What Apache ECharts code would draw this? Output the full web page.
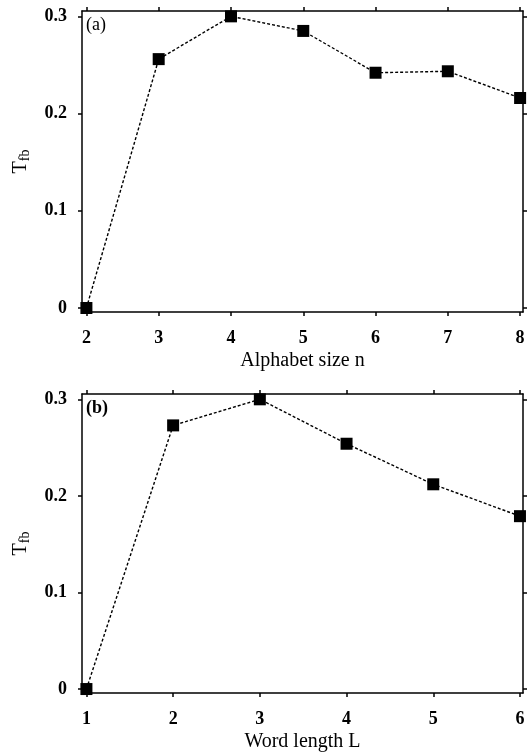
<!DOCTYPE html>
<html>
<head>
<meta charset="utf-8">
<script src="https://cdn.jsdelivr.net/npm/echarts@6/dist/echarts.min.js"></script>
<style>html,body{margin:0;padding:0;background:#fff;}#c{width:532px;height:753px;}</style>
</head>
<body>
<div id="c"></div>
<script>
// ---- data ----
var alphabetSize = [2, 3, 4, 5, 6, 7, 8];
var tfbA = [0, 0.256, 0.300, 0.285, 0.242, 0.2435, 0.216];
var wordLength = [1, 2, 3, 4, 5, 6];
var tfbB = [0, 0.273, 0.300, 0.254, 0.212, 0.179];
var yTicks = [0, 0.1, 0.2, 0.3];
var xNameA = 'Alphabet size n';
var xNameB = 'Word length L';
var panelA = '(a)';
var panelB = '(b)';

var FONT = 'Liberation Serif';
var chart = echarts.init(document.getElementById('c'));

function pairs(xs, ys) { return xs.map(function (x, i) { return [x, ys[i]]; }); }

var lineStyleAxis = { color: '#000', width: 1.5 };
function xAx(gi, pos, ticks, min, max, name, showLabel) {
  return {
    type: 'value', gridIndex: gi, position: pos, min: min, max: max,
    name: showLabel ? name : '', nameLocation: 'middle', nameGap: 39,
    nameTextStyle: { fontFamily: FONT, fontSize: 20, color: '#000' },
    axisLine: { show: true, onZero: false, lineStyle: lineStyleAxis },
    axisTick: { show: true, inside: false, length: 4, customValues: ticks, lineStyle: lineStyleAxis },
    axisLabel: { show: showLabel, customValues: ticks, margin: 17, fontFamily: FONT, fontSize: 18, fontWeight: 'bold', color: '#000' },
    splitLine: { show: false }
  };
}
function yAx(gi, pos, showLabel) {
  return {
    type: 'value', gridIndex: gi, position: pos, min: -0.0041, max: 0.3055,
    name: showLabel ? '{t|T}{s|fb}' : '', nameLocation: 'middle', nameGap: 50, nameRotate: 90,
    nameTextStyle: { fontFamily: FONT, color: '#000',
      rich: { t: { fontFamily: FONT, fontSize: 20, color: '#000' }, s: { fontFamily: FONT, fontSize: 14, color: '#000', padding: [8, 0, 0, 0] } } },
    axisLine: { show: true, onZero: false, lineStyle: lineStyleAxis },
    axisTick: { show: true, inside: false, length: 4, customValues: yTicks, lineStyle: lineStyleAxis },
    axisLabel: { show: showLabel, customValues: yTicks, margin: 15, fontFamily: FONT, fontSize: 18, fontWeight: 'bold', color: '#000',
      formatter: function (v) { return v === 0 ? '0' : v.toFixed(1); } },
    splitLine: { show: false }
  };
}

var seriesStyle = {
  type: 'line', symbol: 'rect', symbolSize: 12, showSymbol: true,
  itemStyle: { color: '#000' },
  lineStyle: { color: '#000', width: 1.4, type: [3, 2] },
  animation: false
};

chart.setOption({
  animation: false,
  backgroundColor: '#fff',
  grid: [
    { left: 82, right: 9, top: 11, height: 301 },
    { left: 82, right: 9, top: 394, height: 301 }
  ],
  xAxis: [
    xAx(0, 'bottom', alphabetSize, 1.939, 8.04, xNameA, true),
    xAx(0, 'top', alphabetSize, 1.939, 8.04, '', false),
    xAx(1, 'bottom', wordLength, 0.949, 6.035, xNameB, true),
    xAx(1, 'top', wordLength, 0.949, 6.035, '', false)
  ],
  yAxis: [
    yAx(0, 'left', true),
    yAx(0, 'right', false),
    yAx(1, 'left', true),
    yAx(1, 'right', false)
  ],
  series: [
    Object.assign({}, seriesStyle, { xAxisIndex: 0, yAxisIndex: 0, data: pairs(alphabetSize, tfbA) }),
    Object.assign({}, seriesStyle, { xAxisIndex: 2, yAxisIndex: 2, data: pairs(wordLength, tfbB) })
  ],
  graphic: [
    { type: 'text', left: 86, top: 16, style: { text: panelA, fontFamily: FONT, fontSize: 18, fill: '#000' } },
    { type: 'text', left: 86, top: 399, style: { text: panelB, fontFamily: FONT, fontSize: 18, fontWeight: 'bold', fill: '#000' } }
  ]
});
</script>
</body>
</html>
